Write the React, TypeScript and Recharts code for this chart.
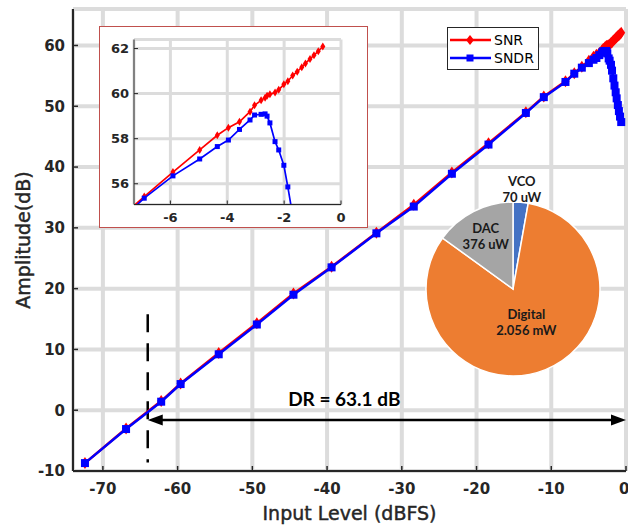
import React from 'react'
import {
  LineChart, Line, XAxis, YAxis, CartesianGrid, ReferenceLine, ReferenceDot,
  PieChart, Pie, Cell
} from 'recharts'

// measured points (input level in dBFS)
const inputLevel = [
  -72.4, -66.9, -62.2, -59.6, -54.5, -49.4, -44.5, -39.4, -33.4, -28.4, -23.3, -18.4, -13.4, -11.0, -8.1,
  -6.92, -5.91, -4.97, -4.35, -3.96, -3.57, -3.2, -3.04, -2.81, -2.67, -2.6, -2.5, -2.32, -2.19, -2.01,
  -1.87, -1.7, -1.54, -1.38, -1.25, -1.09, -0.95, -0.8, -0.64
]
const snr = [
  -8.7, -3.0, 1.5, 4.4, 9.4, 14.3, 19.2, 23.6, 29.2, 33.8, 39.1, 43.9, 49.0, 51.6, 54.1,
  55.43, 56.52, 57.5, 58.15, 58.49, 58.75, 59.2, 59.48, 59.7, 59.82, 59.9, 59.97, 60.05, 60.17, 60.41,
  60.55, 60.8, 60.97, 61.17, 61.34, 61.54, 61.7, 61.88, 62.09
]
const sndr = [
  -8.7, -3.1, 1.4, 4.3, 9.2, 14.1, 19.0, 23.5, 29.1, 33.5, 38.9, 43.7, 48.9, 51.5, 54.0,
  55.36, 56.35, 57.1, 57.65, 57.94, 58.41, 58.83, 59.05, 59.08, 59.1, 59.0, 58.7, 57.87, 57.5, 56.82,
  55.86, 54.6, 53.4, 52.3, 51.3, 50.2, 49.2, 48.3, 47.4
]

const mainXTicks = [-70, -60, -50, -40, -30, -20, -10, 0]
const mainYTicks = [-10, 0, 10, 20, 30, 40, 50, 60]
const insetXTicks = [-6, -4, -2, 0]
const insetYTicks = [56, 58, 60, 62]

// power breakdown pie
const powerNames = ['VCO', 'Digital', 'DAC']
const powerValues = [70, 2056, 376]
const powerLabels = ['70 uW', '2.056 mW', '376 uW']
const powerColors = ['#4472c4', '#ed7d31', '#a5a5a5']

const drStart = -64
const drText = 'DR = 63.1 dB'

const data = inputLevel.map((x, i) => ({ x, snr: snr[i], sndr: sndr[i] }))
const insetData = data.filter(d => d.x >= -8.2)
const pieData = powerNames.map((name, i) => ({ name, value: powerValues[i], label: powerLabels[i] }))

const INSET_X: [number, number] = [-7.28, 0]
const INSET_Y: [number, number] = [55.08, 62.4]

const AX = '#262626'

const inInset = (p: any) =>
  p.payload && p.payload.x >= INSET_X[0] && p.payload.x <= INSET_X[1] && p.value >= INSET_Y[0] && p.value <= INSET_Y[1]

const diamondDot = (w: number, h: number, color: string, clip = false) => (p: any) => {
  const { cx, cy, index } = p
  if (cx == null || cy == null || (clip && !inInset(p))) return <g key={`dm-${index}`} />
  return (
    <polygon key={`dm-${index}`} points={`${cx},${cy - h} ${cx + w},${cy} ${cx},${cy + h} ${cx - w},${cy}`} fill={color} />
  )
}

const squareDot = (s: number, color: string, clip = false) => (p: any) => {
  const { cx, cy, index } = p
  if (cx == null || cy == null || (clip && !inInset(p))) return <g key={`sq-${index}`} />
  return <rect key={`sq-${index}`} x={cx - s / 2} y={cy - s / 2} width={s} height={s} fill={color} />
}

const DoubleArrow = (p: any) => {
  const { x1, y1, x2, y2 } = p
  const len = 15
  const hw = 5.5
  return (
    <g>
      <line x1={x1 + len - 2} y1={y1} x2={x2 - len + 2} y2={y2} stroke="#000" strokeWidth={2.5} />
      <polygon points={`${x1},${y1} ${x1 + len},${y1 - hw} ${x1 + len},${y1 + hw}`} fill="#000" />
      <polygon points={`${x2},${y2} ${x2 - len},${y2 - hw} ${x2 - len},${y2 + hw}`} fill="#000" />
    </g>
  )
}

const renderPieLabel = (p: any) => {
  const { cx, cy, midAngle, outerRadius, index } = p
  const factor = [1.15, 0.41, 0.69][index]
  const r = outerRadius * factor
  const rad = Math.PI / 180
  const x = cx + r * Math.cos(-midAngle * rad)
  const y = cy + r * Math.sin(-midAngle * rad)
  const d = pieData[index]
  return (
    <text key={`pl-${index}`} x={x} y={y} textAnchor="middle" fontFamily="Lato, sans-serif" fontWeight={700} fontSize={13} fill="#1a1a1a">
      <tspan x={x} dy={-3}>{d.name}</tspan>
      <tspan x={x} dy={16}>{d.label}</tspan>
    </text>
  )
}

const labelStyle = { fontSize: 19, fill: AX, stroke: AX, strokeWidth: 0.45 }

export default function App() {
  return (
    <div style={{ position: 'absolute', left: 0, top: 0, width: 628, height: 529, background: '#fff', fontFamily: "'DejaVu Sans', sans-serif" }}>
      <LineChart width={628} height={529} data={data} margin={{ top: 9, right: 2, bottom: 28, left: 13 }}>
        <CartesianGrid stroke="#dcdcdc" strokeWidth={4} />
        <XAxis
          dataKey="x" type="number" domain={[-74, 0]} ticks={mainXTicks} height={30}
          tickSize={-5} tickMargin={17}
          axisLine={{ stroke: AX, strokeWidth: 2 }} tickLine={{ stroke: AX, strokeWidth: 1.5 }}
          tick={{ fontSize: 15, fontWeight: 700, fill: AX }}
          label={{ value: 'Input Level (dBFS)', position: 'bottom', offset: 6, ...labelStyle }}
        />
        <XAxis
          xAxisId="top" orientation="top" dataKey="x" type="number" domain={[-74, 0]} ticks={mainXTicks}
          height={0} tick={false} tickSize={-5}
          axisLine={{ stroke: AX, strokeWidth: 2 }} tickLine={{ stroke: AX, strokeWidth: 1.5 }}
        />
        <YAxis
          type="number" domain={[-10, 66]} ticks={mainYTicks} width={60}
          tickSize={-5} tickMargin={13}
          axisLine={{ stroke: AX, strokeWidth: 2 }} tickLine={{ stroke: AX, strokeWidth: 1.5 }}
          tick={{ fontSize: 15, fontWeight: 700, fill: AX }}
          label={{ value: 'Amplitude(dB)', angle: -90, position: 'insideLeft', offset: 10, style: { textAnchor: 'middle' }, ...labelStyle }}
        />
        <YAxis
          yAxisId="right" orientation="right" type="number" domain={[-10, 66]} ticks={mainYTicks}
          width={0} tick={false} tickSize={-5}
          axisLine={{ stroke: AX, strokeWidth: 2 }} tickLine={{ stroke: AX, strokeWidth: 1.5 }}
        />
        <ReferenceLine
          segment={[{ x: drStart, y: 15.8 }, { x: drStart, y: -8.6 }]}
          stroke="#000" strokeWidth={2.5} strokeDasharray="18 11"
        />
        <ReferenceLine segment={[{ x: drStart, y: -1.6 }, { x: 0, y: -1.6 }]} shape={DoubleArrow} />
        <ReferenceDot
          x={-37.7} y={0.7} r={0}
          shape={(p: any) => (
            <text x={p.cx} y={p.cy} textAnchor="middle" fontFamily="Lato, sans-serif" fontWeight={700} fontSize={19} fill="#000">{drText}</text>
          )}
        />
        <Line dataKey="snr" stroke="#ff0000" strokeWidth={2.5} dot={diamondDot(4, 6, '#ff0000')} activeDot={false} isAnimationActive={false} />
        <Line dataKey="sndr" stroke="#0000ff" strokeWidth={2.5} dot={squareDot(8, '#0000ff')} activeDot={false} isAnimationActive={false} />
      </LineChart>

      {/* zoomed inset */}
      <div style={{ position: 'absolute', left: 99, top: 26, width: 269, height: 202, boxSizing: 'border-box', border: '1.5px solid #c0504d', background: '#fff' }}>
        <LineChart width={266} height={199} data={insetData} margin={{ top: 12.5, right: 25, bottom: 0, left: 0 }}>
          <CartesianGrid stroke="#dcdcdc" strokeWidth={3} />
          <XAxis
            dataKey="x" type="number" domain={INSET_X} allowDataOverflow ticks={insetXTicks} height={21.5}
            tickSize={-4} tickMargin={12}
            axisLine={{ stroke: AX, strokeWidth: 1 }} tickLine={{ stroke: AX, strokeWidth: 1 }}
            tick={{ fontSize: 13, fontWeight: 700, fill: AX }}
          />
          <XAxis
            xAxisId="top" orientation="top" dataKey="x" type="number" domain={INSET_X} allowDataOverflow ticks={insetXTicks}
            height={0} tick={false} tickSize={-4}
            axisLine={{ stroke: AX, strokeWidth: 1 }} tickLine={{ stroke: AX, strokeWidth: 1 }}
          />
          <YAxis
            type="number" domain={INSET_Y} allowDataOverflow ticks={insetYTicks} width={34}
            tickSize={-4} tickMargin={9}
            axisLine={{ stroke: AX, strokeWidth: 1 }} tickLine={{ stroke: AX, strokeWidth: 1 }}
            tick={{ fontSize: 13, fontWeight: 700, fill: AX }}
          />
          <YAxis
            yAxisId="right" orientation="right" type="number" domain={INSET_Y} allowDataOverflow ticks={insetYTicks}
            width={0} tick={false} tickSize={-4}
            axisLine={{ stroke: AX, strokeWidth: 1 }} tickLine={{ stroke: AX, strokeWidth: 1 }}
          />
          <Line dataKey="snr" stroke="#ff0000" strokeWidth={1.7} dot={diamondDot(2.5, 4, '#ff0000', true)} activeDot={false} isAnimationActive={false} />
          <Line dataKey="sndr" stroke="#0000ff" strokeWidth={1.7} dot={squareDot(5, '#0000ff', true)} activeDot={false} isAnimationActive={false} />
        </LineChart>
      </div>

      {/* power pie */}
      <div style={{ position: 'absolute', left: 403, top: 174, width: 220, height: 230 }}>
        <PieChart width={220} height={230} margin={{ top: 0, right: 0, bottom: 0, left: 0 }}>
          <Pie
            data={pieData} dataKey="value" nameKey="name" cx={110} cy={115} outerRadius={87}
            startAngle={90} endAngle={-270} stroke="#fff" strokeWidth={1.5}
            label={renderPieLabel} labelLine={false} isAnimationActive={false}
          >
            {pieData.map((d, i) => <Cell key={d.name} fill={powerColors[i]} />)}
          </Pie>
        </PieChart>
      </div>

      {/* legend */}
      <svg style={{ position: 'absolute', left: 447, top: 27 }} width={92} height={43}>
        <rect x={0.5} y={0.5} width={91} height={42} fill="#fff" stroke={AX} strokeWidth={1} />
        <line x1={3} y1={13} x2={44} y2={13} stroke="#ff0000" strokeWidth={2.5} />
        <polygon points="23,8 27,13 23,18 19,13" fill="#ff0000" />
        <text x={47} y={18} fontSize={14} fill="#000">SNR</text>
        <line x1={3} y1={31} x2={44} y2={31} stroke="#0000ff" strokeWidth={2.5} />
        <rect x={19.5} y={27.5} width={7} height={7} fill="#0000ff" />
        <text x={47} y={36} fontSize={14} fill="#000">SNDR</text>
      </svg>
    </div>
  )
}
